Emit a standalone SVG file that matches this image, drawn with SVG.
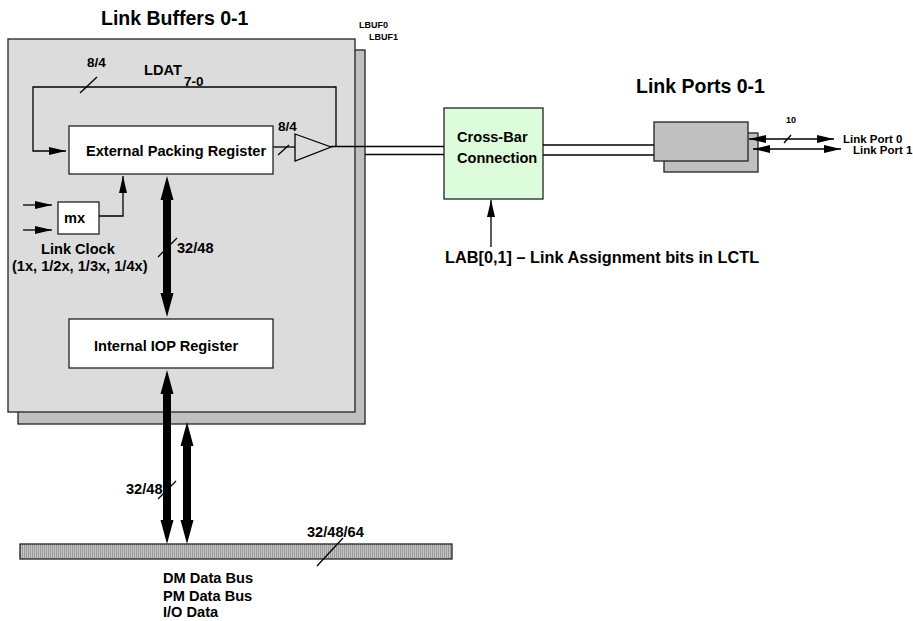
<svg xmlns="http://www.w3.org/2000/svg" width="913" height="621" viewBox="0 0 913 621">
<style>
text{font-family:"Liberation Sans",Arial,sans-serif;font-weight:bold;fill:#000}
.t20{font-size:19.5px}
.t15{font-size:14.6px}
.t16{font-size:16.3px}
.t13{font-size:13.5px}
.t11{font-size:11.5px}
.t9{font-size:9px}
.ln{fill:none;stroke:#000;stroke-width:1.3}
.ar{marker-end:url(#ah)}
.ar2{marker-start:url(#ahs);marker-end:url(#ah)}
.box{fill:#fff;stroke:#222;stroke-width:1.3}
.thick{fill:#000;stroke:none}
</style>
<defs>
<marker id="ah" markerUnits="userSpaceOnUse" markerWidth="18" markerHeight="9" refX="17" refY="4.5" orient="auto">
<path d="M0,0.5 L17,4.5 L0,8.5 z" fill="#000"/>
</marker>
<marker id="ahs" markerUnits="userSpaceOnUse" markerWidth="18" markerHeight="9" refX="1" refY="4.5" orient="auto">
<path d="M18,0.5 L1,4.5 L18,8.5 z" fill="#000"/>
</marker>
<pattern id="bus" width="2" height="3" patternUnits="userSpaceOnUse">
<rect width="2" height="3" fill="#c4c4c4"/>
<rect width="1" height="3" fill="#9a9a9a"/>
</pattern>
</defs>

<g id="link-buffers">
<rect x="18" y="50" width="347" height="374" fill="#c0c0c0" stroke="#222" stroke-width="1.3"/>
<rect x="8" y="39" width="347" height="373" fill="#dcdcdc" stroke="#222" stroke-width="1.3"/>
<text class="t20" x="101" y="25">Link Buffers 0-1</text>
<text class="t9" x="359" y="28">LBUF0</text>
<text class="t9" x="369" y="40">LBUF1</text>
</g>

<g id="ext-packing-register">
<rect class="box" x="69" y="126" width="204" height="48"/>
<text class="t15" x="86" y="156">External Packing Register</text>
</g>

<g id="driver">
<polygon points="295,134 331,147 295,161" fill="none" stroke="#000" stroke-width="1.3"/>
</g>

<g id="mx">
<rect class="box" x="58" y="202" width="41" height="32"/>
<text class="t15" x="64" y="223">mx</text>
<text class="t15" x="41" y="254">Link Clock</text>
<text class="t15" x="12" y="271">(1x, 1/2x, 1/3x, 1/4x)</text>
</g>

<g id="internal-iop-register">
<rect class="box" x="69" y="319" width="204" height="49"/>
<text class="t15" x="94" y="351">Internal IOP Register</text>
</g>

<g id="crossbar">
<rect x="444" y="108" width="99" height="91" fill="#dcfcdc" stroke="#222" stroke-width="1.3"/>
<text class="t15" x="457" y="142">Cross-Bar</text>
<text class="t15" x="457" y="163">Connection</text>
</g>

<g id="link-ports">
<text class="t20" x="636" y="93">Link Ports 0-1</text>
<rect x="664" y="133" width="94" height="39" fill="#c0c0c0" stroke="#222" stroke-width="1.3"/>
<rect x="654" y="122" width="94" height="39" fill="#c0c0c0" stroke="#222" stroke-width="1.3"/>
<text class="t11" x="843" y="143">Link Port 0</text>
<text class="t11" x="853" y="154">Link Port 1</text>
</g>

<g id="data-bus">
<rect x="20" y="544" width="432" height="15" fill="url(#bus)" stroke="#222" stroke-width="1.3"/>
<text class="t15" x="163" y="583">DM Data Bus</text>
<text class="t15" x="163" y="601">PM Data Bus</text>
<text class="t15" x="163" y="617">I/O Data</text>
</g>

<g id="connectors">
<!-- LDAT feedback loop -->
<polyline class="ln ar" points="336,147 336,87 33,87 33,151 66,151"/>
<line class="ln" x1="80" y1="93" x2="97" y2="77"/>
<text class="t13" x="87" y="67">8/4</text>
<text class="t15" x="144" y="75">LDAT</text>
<text class="t13" x="184" y="86">7-0</text>
<!-- register to driver -->
<line class="ln" x1="273" y1="147" x2="295" y2="147"/>
<line class="ln" x1="278" y1="155" x2="289" y2="145"/>
<text class="t13" x="278" y="131">8/4</text>
<!-- driver to crossbar -->
<line class="ln" x1="331" y1="146.5" x2="444" y2="146.5"/>
<line class="ln" x1="365" y1="154.5" x2="444" y2="154.5"/>
<!-- crossbar to link ports -->
<line class="ln" x1="543" y1="145" x2="654" y2="145"/>
<line class="ln" x1="543" y1="155" x2="654" y2="155"/>
<!-- link port lines -->
<line class="ln ar2" x1="749" y1="139" x2="834" y2="139"/>
<line class="ln ar2" x1="753" y1="149" x2="841" y2="149"/>
<line class="ln" x1="784" y1="143" x2="791" y2="135"/>
<text class="t9" x="786" y="123">10</text>
<!-- LAB arrow -->
<line class="ln ar" x1="491" y1="247" x2="491" y2="200"/>
<text class="t16" x="445" y="263">LAB[0,1] – Link Assignment bits in LCTL</text>
<!-- mx inputs/outputs -->
<line class="ln ar" x1="23" y1="205" x2="52" y2="205"/>
<line class="ln ar" x1="23" y1="230" x2="52" y2="230"/>
<polyline class="ln ar" points="99,216 123,216 123,176"/>
<!-- thick bus arrows -->
<path class="thick" d="M167,176 L173.5,200 L171,200 L171,293 L173.5,293 L167,317 L160.5,293 L163,293 L163,200 L160.5,200 z"/>
<line class="ln" x1="158" y1="257" x2="177" y2="238"/>
<text class="t15" x="177" y="253">32/48</text>
<path class="thick" d="M167,370 L173.5,394 L171,394 L171,520 L173.5,520 L167,544 L160.5,520 L163,520 L163,394 L160.5,394 z"/>
<path class="thick" d="M187,422 L193.5,446 L191,446 L191,520 L193.5,520 L187,544 L180.5,520 L183,520 L183,446 L180.5,446 z"/>
<line class="ln" x1="158" y1="499" x2="176" y2="481"/>
<text class="t15" x="126" y="494">32/48</text>
<line class="ln" x1="317" y1="566" x2="343" y2="538"/>
<text class="t15" x="307" y="537">32/48/64</text>
</g>
</svg>
